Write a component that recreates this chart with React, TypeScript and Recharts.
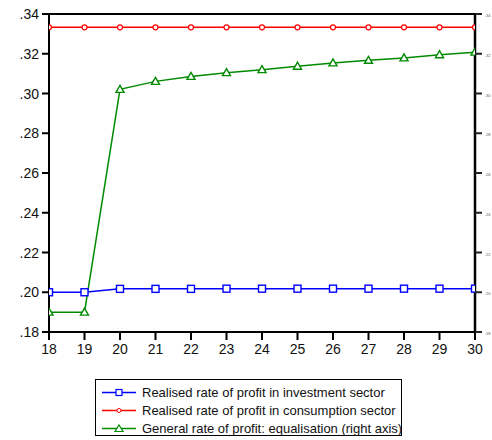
import React from "react";
import { LineChart, Line, XAxis, YAxis, ReferenceLine } from "recharts";

const years = [18, 19, 20, 21, 22, 23, 24, 25, 26, 27, 28, 29, 30];
const investment = [0.2, 0.2, 0.2017, 0.2017, 0.2017, 0.2018, 0.2018, 0.2018, 0.2018, 0.2018, 0.2018, 0.2018, 0.2018];
const consumption = [0.3333, 0.3333, 0.3333, 0.3333, 0.3333, 0.3333, 0.3333, 0.3333, 0.3333, 0.3333, 0.3333, 0.3333, 0.3333];
const equalisation = [0.19, 0.19, 0.3021, 0.3061, 0.3086, 0.3105, 0.312, 0.3137, 0.3154, 0.3167, 0.3179, 0.3195, 0.3208];
const yTicks = [0.18, 0.2, 0.22, 0.24, 0.26, 0.28, 0.3, 0.32, 0.34];
const legendLabels = [
  "Realised rate of profit in investment sector",
  "Realised rate of profit in consumption sector",
  "General rate of profit: equalisation (right axis)",
];

const BLUE = "#0000ff";
const RED = "#ff0000";
const GREEN = "#008a00";
const FONT = "'Liberation Sans', Arial, sans-serif";

const data = years.map((yr, i) => ({
  yr,
  inv: investment[i],
  con: consumption[i],
  eq: equalisation[i],
}));

const fmt = (v: number) => v.toFixed(2).replace(/^0/, "");

const Square = (props: any) => {
  const { cx, cy } = props;
  return <rect x={cx - 3.5} y={cy - 3.5} width={7} height={7} fill="#fff" stroke={BLUE} strokeWidth={1.4} />;
};
const Circle = (props: any) => {
  const { cx, cy } = props;
  return <circle cx={cx} cy={cy} r={2.5} fill="#fff" stroke={RED} strokeWidth={1.2} />;
};
const Tri = (props: any) => {
  const { cx, cy } = props;
  return (
    <polygon
      points={`${cx - 4},${cy + 3} ${cx + 4},${cy + 3} ${cx},${cy - 4}`}
      fill="#fff"
      stroke={GREEN}
      strokeWidth={1.4}
    />
  );
};

const BottomTick = (props: any) => {
  const { x, y, payload } = props;
  return (
    <g>
      <rect x={x - 1} y={y - 10} width={2} height={8} fill="#000" />
      <text x={x} y={y + 12} textAnchor="middle" fontSize={14} fontFamily={FONT} fill="#111">
        {payload.value}
      </text>
    </g>
  );
};

const LeftTick = (props: any) => {
  const { x, y, payload } = props;
  return (
    <g>
      <rect x={x + 1} y={y - 1} width={7} height={2} fill="#000" />
      <text x={x - 2} y={y + 5} textAnchor="end" fontSize={14} fontFamily={FONT} fill="#111">
        {fmt(payload.value)}
      </text>
    </g>
  );
};

// right axis labels are cut off by the window edge in the original: shown tiny
const RightTick = (props: any) => {
  const { y, payload } = props;
  return (
    <g>
      <rect x={475} y={y - 1} width={7} height={2} fill="#222" />
      <text x={485} y={y + 3} fontSize={4} fontFamily={FONT} fill="#555">
        {fmt(payload.value)}
      </text>
    </g>
  );
};

function Legend() {
  const colors = [BLUE, RED, GREEN];
  const markers = [
    <rect key="s" x={14} y={1.5} width={6} height={6} fill="#fff" stroke={BLUE} strokeWidth={1.2} />,
    <circle key="c" cx={17} cy={4.5} r={2} fill="#fff" stroke={RED} strokeWidth={1} />,
    <polygon key="t" points="13,7.5 21,7.5 17,1" fill="#fff" stroke={GREEN} strokeWidth={1.2} />,
  ];
  return (
    <div
      style={{
        position: "absolute",
        left: 95,
        top: 379,
        width: 307,
        height: 57,
        border: "1px solid #000",
        boxSizing: "border-box",
        fontFamily: FONT,
        fontSize: 13,
        color: "#111",
      }}
    >
      {legendLabels.map((label, i) => (
        <div
          key={label}
          style={{ position: "absolute", left: 6, top: 3 + i * 18, height: 18, display: "flex", alignItems: "center", whiteSpace: "nowrap" }}
        >
          <svg width={34} height={9} style={{ marginRight: 6 }}>
            <line x1={0} y1={4.5} x2={34} y2={4.5} stroke={colors[i]} strokeWidth={1.5} />
            {markers[i]}
          </svg>
          <span>{label}</span>
        </div>
      ))}
    </div>
  );
}

export default function App() {
  return (
    <div style={{ position: "absolute", left: 0, top: 0, width: 492, height: 440, background: "#fff", overflow: "hidden" }}>
      <LineChart width={492} height={370} data={data} margin={{ top: 14, right: 0, bottom: 8, left: 0 }}>
        <XAxis
          dataKey="yr"
          type="number"
          domain={[18, 30]}
          ticks={years}
          allowDataOverflow
          stroke="#000"
          strokeWidth={2}
          tickLine={false}
          tickSize={0}
          tickMargin={10}
          tick={<BottomTick />}
          height={30}
          interval={0}
        />
        <YAxis
          yAxisId="left"
          domain={[0.18, 0.34]}
          ticks={yTicks}
          allowDataOverflow
          width={49}
          stroke="#000"
          strokeWidth={2}
          tickLine={false}
          tickSize={0}
          tickMargin={8}
          tick={<LeftTick />}
        />
        <YAxis
          yAxisId="right"
          orientation="right"
          domain={[0.18, 0.34]}
          ticks={yTicks}
          allowDataOverflow
          width={17}
          stroke="#000"
          strokeWidth={2.5}
          tickLine={false}
          tick={<RightTick />}
        />
        <ReferenceLine yAxisId="left" y={0.34} stroke="#000" strokeWidth={2} />
        <Line yAxisId="left" dataKey="inv" stroke={BLUE} strokeWidth={1.5} dot={<Square />} isAnimationActive={false} />
        <Line yAxisId="left" dataKey="con" stroke={RED} strokeWidth={1.5} dot={<Circle />} isAnimationActive={false} />
        <Line yAxisId="right" dataKey="eq" stroke={GREEN} strokeWidth={1.5} dot={<Tri />} isAnimationActive={false} />
      </LineChart>
      <Legend />
    </div>
  );
}
